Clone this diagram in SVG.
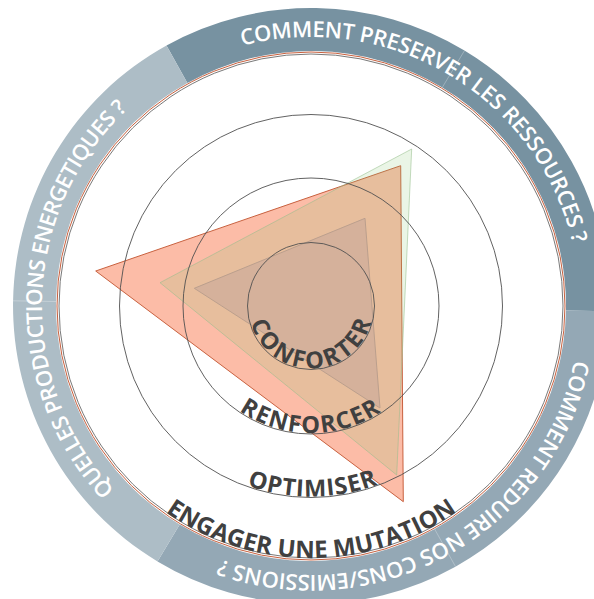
<svg xmlns="http://www.w3.org/2000/svg" width="594" height="599" viewBox="0 0 594 599">
<defs>
<style>
.ring{font-family:"Open Sans","Liberation Sans",sans-serif;font-weight:600;font-size:22px;fill:#ffffff}
.lvl{font-family:"Open Sans","Liberation Sans",sans-serif;font-weight:700;font-size:23.5px;fill:#404040}
.grid{fill:none;stroke:#505050;stroke-width:0.9}
.sep{stroke:#ffffff;stroke-opacity:0.35;stroke-width:0.8}
</style>
<path id="pTop" d="M242.3,45.9 A269,269 0 0 1 572.7,243.7"/>
<path id="pLeft" d="M114.6,489.8 A269,269 0 0 1 127.5,109.3"/>
<path id="pBot" d="M574.5,360.1 A269,269 0 0 1 220.8,559.4"/>
<path id="pConf" d="M250.8,322.7 A62.5,62.5 0 0 0 371.2,322.7"/>
<path id="pRenf" d="M239.2,410.8 A127,127 0 0 0 380.9,412.0"/>
<path id="pOpt" d="M247.1,485.5 A190.5,190.5 0 0 0 377.7,484.4"/>
<path id="pEng" d="M165.7,511.9 A252,252 0 0 0 457.0,511.4"/>
</defs>
<rect width="594" height="599" fill="#ffffff"/>
<g id="ring">
<path d="M166.5,45.4 A298,298 0 0 1 608.96,311.2 L565.96,310.45 A255,255 0 0 0 187.4,83.0 Z" fill="#7792A1"/>
<path d="M608.96,311.2 A298,298 0 0 1 157.5,561.4 L179.7,524.6 A255,255 0 0 0 565.96,310.45 Z" fill="#94A8B5"/>
<path d="M157.5,561.4 A298,298 0 0 1 166.5,45.4 L187.4,83.0 A255,255 0 0 0 179.7,524.6 Z" fill="#ADBDC6"/>
<line class="sep" x1="442.3" y1="87.4" x2="464.5" y2="50.6"/>
<line class="sep" x1="434.6" y1="529.0" x2="455.5" y2="566.6"/>
<line class="sep" x1="56.04" y1="301.55" x2="13.04" y2="300.8"/>
<circle cx="311" cy="306" r="252" fill="none" stroke="#6a6a6a" stroke-width="0.9"/>
<circle cx="311" cy="306" r="254" fill="none" stroke="#C8613F" stroke-width="1"/>
</g>
<g id="ring-labels">
<text class="ring"><textPath href="#pTop" textLength="429" lengthAdjust="spacing">COMMENT PRESERVER LES RESSOURCES ?</textPath></text>
<text class="ring"><textPath href="#pLeft" textLength="423" lengthAdjust="spacing">QUELLES PRODUCTIONS ENERGETIQUES ?</textPath></text>
<text class="ring"><textPath href="#pBot" textLength="460" lengthAdjust="spacing">COMMENT REDUIRE NOS CONS/EMISSIONS ?</textPath></text>
</g>
<g id="series">
<polygon id="s-orange" points="95.7,271 400.7,165.7 403.3,501.7" fill="#FCBCA7" stroke="#C8613F" stroke-width="1"/>
<polygon id="s-green" points="411.7,149 160,282.7 396.7,475" fill="rgb(139,200,117)" fill-opacity="0.18" stroke="rgb(150,190,140)" stroke-opacity="0.55" stroke-width="1"/>
<polygon id="s-inner" points="194.3,288.3 365,218.3 380,408" fill="#D5B19B" stroke="#BB9F8D" stroke-width="1"/>
</g>
<g id="grid">
<circle class="grid" cx="311" cy="306" r="63.5"/>
<circle class="grid" cx="311" cy="306" r="128"/>
<circle class="grid" cx="311" cy="306" r="191.5"/>
</g>
<g id="level-labels">
<text class="lvl"><textPath href="#pConf" textLength="162.5" lengthAdjust="spacing">CONFORTER</textPath></text>
<text class="lvl"><textPath href="#pRenf" textLength="150.3" lengthAdjust="spacing">RENFORCER</textPath></text>
<text class="lvl"><textPath href="#pOpt" textLength="133.3" lengthAdjust="spacing">OPTIMISER</textPath></text>
<text class="lvl" style="font-size:24px"><textPath href="#pEng" textLength="310.5" lengthAdjust="spacing">ENGAGER UNE MUTATION</textPath></text>
</g>
</svg>
